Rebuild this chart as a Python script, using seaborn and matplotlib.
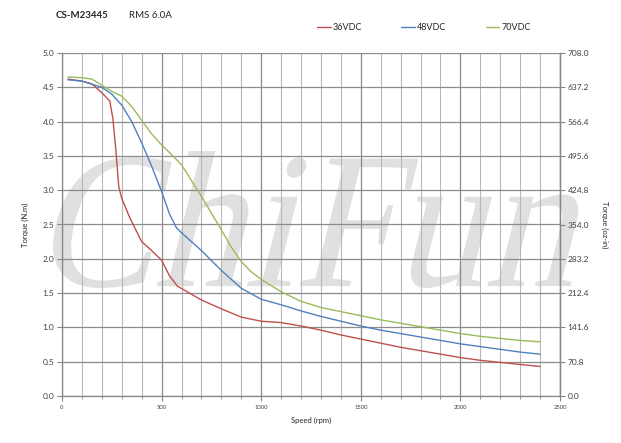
import matplotlib
matplotlib.use('Agg')
import matplotlib.pyplot as plt
from matplotlib.ticker import MultipleLocator, FixedLocator
from matplotlib.textpath import TextPath
from matplotlib.patches import PathPatch
from matplotlib.font_manager import FontProperties
from matplotlib.transforms import Affine2D
import seaborn as sns
import pandas as pd

# torque curves (speed in rpm, torque in N.m)
speed_36 = [30, 100, 150, 200, 240, 255, 270, 285, 300, 340, 400, 450, 500, 540, 580, 700, 800, 900,
            1000, 1100, 1200, 1300, 1400, 1500, 1600, 1700, 1800, 1900, 2000, 2100, 2200, 2300, 2400]
torque_36 = [4.62, 4.59, 4.55, 4.42, 4.30, 4.05, 3.60, 3.05, 2.88, 2.60, 2.25, 2.12, 1.98, 1.75, 1.60, 1.40, 1.27, 1.15,
             1.09, 1.07, 1.02, 0.96, 0.89, 0.83, 0.77, 0.71, 0.66, 0.61, 0.56, 0.52, 0.49, 0.46, 0.43]

speed_48 = [30, 100, 200, 250, 300, 350, 400, 450, 500, 540, 575, 600, 700, 800, 900,
            1000, 1100, 1200, 1300, 1400, 1500, 1600, 1700, 1800, 1900, 2000, 2100, 2200, 2300, 2400]
torque_48 = [4.61, 4.59, 4.50, 4.40, 4.24, 4.00, 3.69, 3.35, 2.98, 2.65, 2.45, 2.38, 2.12, 1.83, 1.57,
             1.41, 1.33, 1.24, 1.16, 1.09, 1.02, 0.96, 0.91, 0.86, 0.81, 0.76, 0.72, 0.68, 0.64, 0.61]

speed_70 = [30, 100, 150, 200, 250, 300, 350, 400, 450, 500, 550, 580, 600, 700, 800, 850, 900, 950,
            1000, 1100, 1200, 1300, 1400, 1500, 1600, 1700, 1800, 1900, 2000, 2100, 2200, 2300, 2400]
torque_70 = [4.65, 4.64, 4.62, 4.53, 4.44, 4.37, 4.22, 4.02, 3.82, 3.66, 3.52, 3.43, 3.37, 2.91, 2.42, 2.17, 1.96, 1.81,
             1.70, 1.52, 1.38, 1.29, 1.23, 1.17, 1.11, 1.06, 1.01, 0.96, 0.91, 0.87, 0.84, 0.81, 0.79]

series = ['36VDC', '48VDC', '70VDC']
colors = ['#c0504d', '#4f81bd', '#9bbb59']

nm_ticks = [0.0, 0.5, 1.0, 1.5, 2.0, 2.5, 3.0, 3.5, 4.0, 4.5, 5.0]
oz_ticks = [0.0, 70.8, 141.6, 212.4, 283.2, 354.0, 424.8, 495.6, 566.4, 637.2, 708.0]
speed_ticks = [0, 500, 1000, 1500, 2000, 2500]

frames = []
for name, sp, tq in zip(series, [speed_36, speed_48, speed_70], [torque_36, torque_48, torque_70]):
    frames.append(pd.DataFrame({'Speed': sp, 'Torque': tq, 'Series': name}))
df = pd.concat(frames, ignore_index=True)

sns.set_style('white')
plt.rcParams['font.family'] = ['Lato', 'DejaVu Sans']

fig = plt.figure(figsize=(6.21, 4.43), dpi=100)
ax = fig.add_axes([62 / 621, 1 - 396 / 443, 498 / 621, 343 / 443])
ax.patch.set_facecolor('none')

# big slanted watermark behind the plot, fitted into its box (in inches)
tp = TextPath((0, 0), 'ChiFun', size=1, prop=FontProperties(family='Liberation Serif'))
ext = tp.get_extents()
wm_left, wm_right, wm_bottom, wm_top = 0.40, 5.70, 1.55, 2.92
wm = (Affine2D().translate(-ext.x0, -ext.y0)
      .scale((wm_right - wm_left) / ext.width, (wm_top - wm_bottom) / ext.height)
      .skew_deg(14, 0)
      .translate(wm_left, wm_bottom))
patch = PathPatch(wm.transform_path(tp), facecolor='#e0e0e0', edgecolor='none',
                  transform=fig.dpi_scale_trans, zorder=-1)
fig.add_artist(patch)

sns.lineplot(data=df, x='Speed', y='Torque', hue='Series', palette=colors, estimator=None,
             linewidth=1.0, legend=False, ax=ax, zorder=3)

ax.set_xlim(0, 2500)
ax.set_ylim(0, 5)
ax.xaxis.set_minor_locator(MultipleLocator(100))
ax.set_yticks(nm_ticks)
ax.set_yticklabels([f'{v:.1f}' for v in nm_ticks], fontsize=6, color='#404040')
ax.set_xticks(speed_ticks)
ax.set_xticklabels([str(v) for v in speed_ticks], fontsize=4.2, color='#404040')

ax.grid(which='major', color='#8c8c8c', linewidth=0.9)
ax.grid(which='minor', axis='x', color='#b8b8b8', linewidth=0.8)
ax.set_axisbelow(True)

ax.spines['top'].set_visible(False)
for side in ['left', 'bottom', 'right']:
    ax.spines[side].set_color('#868686')
    ax.spines[side].set_linewidth(0.9)

ax.tick_params(axis='y', which='major', direction='out', length=3.5, width=0.8, color='#868686', pad=2, left=True)
ax.tick_params(axis='x', which='major', direction='out', length=3.5, width=0.8, color='#868686', pad=3, bottom=True)
ax.tick_params(axis='x', which='minor', direction='out', length=2, width=0.6, color='#868686', bottom=True)

ax.set_xlabel('Speed (rpm)', fontsize=5.5, labelpad=5)
ax.set_ylabel('Torque (N.m)', fontsize=5.5, labelpad=10)

ax2 = ax.twinx()
ax2.set_ylim(0, 708)
ax2.set_yticks(oz_ticks)
ax2.set_yticklabels([f'{v:.1f}' for v in oz_ticks], fontsize=6, color='#404040')
ax2.tick_params(axis='y', direction='out', length=3.5, width=0.8, color='#868686', pad=2, right=True)
for side in ['top', 'left', 'bottom']:
    ax2.spines[side].set_visible(False)
ax2.spines['right'].set_color('#868686')
ax2.spines['right'].set_linewidth(0.9)
ax2.set_ylabel('Torque (oz-in)', fontsize=5.5, rotation=270, labelpad=14)
ax2.grid(False)

fig.text(56 / 621, 1 - 16 / 443, 'CS-M23445', fontsize=7, fontweight='bold', va='center', ha='left')
fig.text(129 / 621, 1 - 16 / 443, 'RMS 6.0A', fontsize=7, va='center', ha='left')

handles = ax.get_lines()[:3]
fig.legend(handles, series, loc='center left', bbox_to_anchor=(317 / 621, 1 - 28 / 443), ncol=3,
           frameon=False, fontsize=6.5, handlelength=1.5, handletextpad=0.2, columnspacing=4.4,
           borderpad=0, borderaxespad=0)

fig.savefig('out.png', dpi=100)
